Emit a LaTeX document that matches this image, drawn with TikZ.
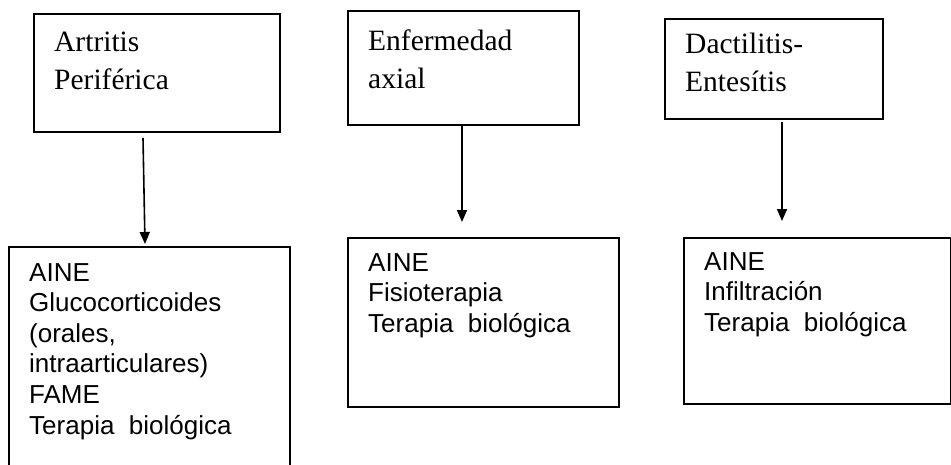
\documentclass[tikz,border=0pt]{standalone}
\usepackage{fontspec}
\setmainfont{Liberation Serif}
\newfontfamily\arialfont{Liberation Sans}
\usetikzlibrary{arrows.meta}
\begin{document}
\begin{tikzpicture}[x=1pt,y=-1pt,
  box/.style={draw, line width=1.5pt, rectangle, inner sep=0pt, anchor=north west},
  toptext/.style={anchor=north west, inner sep=0pt, align=left, font=\fontsize{29.5}{38}\selectfont},
  bottext/.style={anchor=north west, inner sep=0pt, align=left, font=\arialfont\fontsize{26}{30.6}\selectfont},
  arr/.style={-{Triangle[width=10pt,length=12pt]}, line width=1.6pt}]
\clip (0,0) rectangle (951,464);
\fill[white] (0,0) rectangle (951,464);
% top boxes
\node[box, minimum width=246pt, minimum height=118pt] (b1) at (33,13) {};
\node[box, minimum width=231pt, minimum height=114pt] (b2) at (347,10) {};
\node[box, minimum width=218pt, minimum height=100pt] (b3) at (664,18) {};
\node[toptext] (t1) at (54,32) {Artritis\\Periférica};
\node[toptext] (t2) at (368,30) {Enfermedad\\axial};
\node[toptext] (t3) at (685,33) {Dactilitis-\\Entesítis};
% bottom boxes
\node[box, minimum width=281pt, minimum height=240pt] (b4) at (8,246) {};
\node[box, minimum width=271pt, minimum height=169pt] (b5) at (347,237) {};
\node[box, minimum width=267pt, minimum height=166pt] (b6) at (683,237) {};
\node[bottext] (t4) at (29,263) {AINE\\Glucocorticoides\\(orales,\\intraarticulares)\\FAME\\Terapia\ \ biológica};
\node[bottext] (t5) at (368,253) {AINE\\Fisioterapia\\Terapia\ \ biológica};
\node[bottext] (t6) at (704,252) {AINE\\Infiltración\\Terapia\ \ biológica};
% arrows
\coordinate (a1s) at (143,138);
\coordinate (a1e) at (145,244);
\coordinate (a2s) at (462,124);
\coordinate (a2e) at (462,222);
\coordinate (a3s) at (782,122);
\coordinate (a3e) at (782,221);
\draw[arr] (a1s) -- (a1e);
\draw[arr] (a2s) -- (a2e);
\draw[arr] (a3s) -- (a3e);
\end{tikzpicture}
\end{document}
